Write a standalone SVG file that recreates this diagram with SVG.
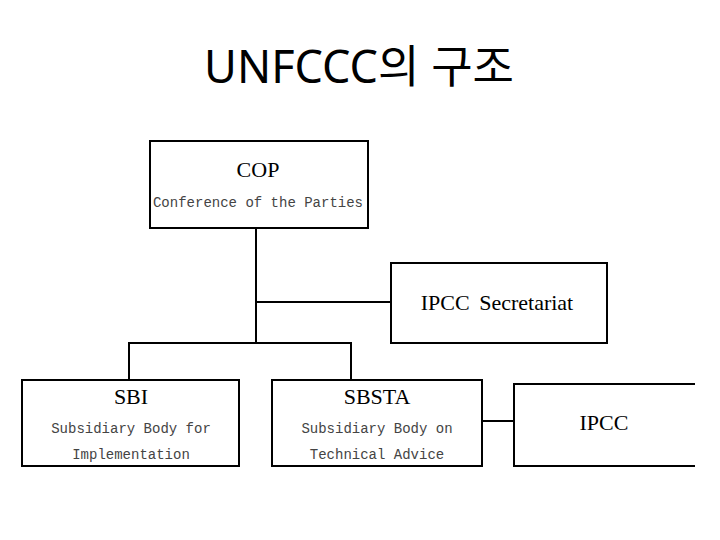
<svg xmlns="http://www.w3.org/2000/svg" width="720" height="540" viewBox="0 0 720 540">
<style>
.box{fill:#fff;stroke:#000;stroke-width:2}
.conn{fill:none;stroke:#000;stroke-width:2}
.title{font-family:"Noto Sans","Noto Sans CJK KR",sans-serif;font-size:45px;fill:#000;text-anchor:middle}
.main{font-family:"Liberation Serif",serif;font-size:22px;fill:#000;text-anchor:middle;word-spacing:4px}
.sub{font-family:"Liberation Mono",monospace;font-size:14px;fill:#444;text-anchor:middle}
</style>
<rect width="720" height="540" fill="#fff"/>
<text class="title" x="359" y="83">UNFCCC의 구조</text>
<g id="connectors">
<path class="conn" d="M256,228 V343"/>
<path class="conn" d="M256,302 H391"/>
<path class="conn" d="M129,380 V343 H351 V380"/>
<path class="conn" d="M482,421 H514"/>
</g>
<g id="cop">
<rect class="box" x="150" y="141" width="218" height="87"/>
<text class="main" x="258" y="177">COP</text>
<text class="sub" x="258" y="207">Conference of the Parties</text>
</g>
<g id="ipcc-secretariat">
<rect class="box" x="391" y="263" width="216" height="80"/>
<text class="main" x="497" y="310">IPCC Secretariat</text>
</g>
<g id="sbi">
<rect class="box" x="22" y="380" width="217" height="86"/>
<text class="main" x="131" y="404">SBI</text>
<text class="sub" x="131" y="433">Subsidiary Body for</text>
<text class="sub" x="131" y="459">Implementation</text>
</g>
<g id="sbsta">
<rect class="box" x="272" y="380" width="210" height="86"/>
<text class="main" x="377" y="404">SBSTA</text>
<text class="sub" x="377" y="433">Subsidiary Body on</text>
<text class="sub" x="377" y="459">Technical Advice</text>
</g>
<g id="ipcc">
<rect x="514" y="384" width="181" height="82" fill="#fff"/>
<path class="conn" d="M695,384 H514 V466 H695"/>
<text class="main" x="604" y="430">IPCC</text>
</g>
</svg>
